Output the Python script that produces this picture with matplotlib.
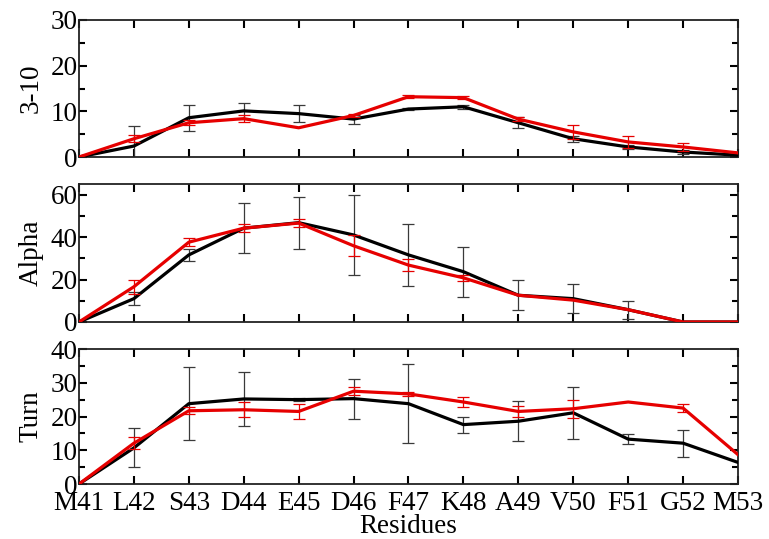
import numpy as np
import matplotlib
matplotlib.use("Agg")
import matplotlib.pyplot as plt
from matplotlib.ticker import MultipleLocator

plt.rcParams['font.family'] = ['Liberation Serif', 'DejaVu Serif']

residues = ["M41", "L42", "S43", "D44", "E45", "D46", "F47",
            "K48", "A49", "V50", "F51", "G52", "M53"]

# 3-10 helix
h310_black = [0, 2.4, 8.6, 10.1, 9.5, 8.3, 10.5, 11.0, 7.5, 4.0, 2.2, 1.1, 0.4]
h310_black_err = [0, 4.4, 2.8, 1.8, 1.8, 1.0, 0.3, 0.4, 1.2, 0.7, 0.5, 0.5, 0]
h310_red = [0, 4.0, 7.5, 8.4, 6.4, 9.1, 13.2, 13.0, 8.3, 5.5, 3.3, 2.2, 0.9]
h310_red_err = [0, 0.8, 0.6, 0.7, 0, 0.4, 0.3, 0.3, 0.5, 1.5, 1.3, 0.9, 0]

# alpha helix
alpha_black = [0, 11.0, 31.6, 44.2, 46.8, 41.0, 31.6, 23.7, 12.6, 11.0, 5.8, 0, 0]
alpha_black_err = [0, 3.2, 2.7, 11.8, 12.3, 18.7, 14.5, 11.8, 7.0, 6.7, 4.3, 0, 0]
alpha_red = [0, 16.6, 37.6, 44.2, 46.6, 35.9, 26.8, 20.8, 12.6, 10.3, 5.8, 0, 0]
alpha_red_err = [0, 3.2, 2.0, 2.0, 1.8, 5.0, 3.0, 1.5, 0, 0, 0, 0, 0]

# turn
turn_black = [0, 10.7, 23.8, 25.2, 25.0, 25.3, 23.8, 17.6, 18.6, 21.1, 13.3, 12.1, 6.4]
turn_black_err = [0, 5.8, 10.8, 8.1, 0.5, 5.9, 11.7, 2.4, 6.0, 7.7, 1.5, 4.0, 0]
turn_red = [0, 12.1, 21.7, 22.0, 21.5, 27.5, 26.7, 24.3, 21.5, 22.3, 24.3, 22.5, 8.7]
turn_red_err = [0, 1.8, 1.0, 2.2, 2.1, 1.2, 0.5, 1.6, 1.5, 2.6, 0, 1.1, 0]

panels = [
    ("3-10", h310_black, h310_black_err, h310_red, h310_red_err, 30, 10, 5),
    ("Alpha", alpha_black, alpha_black_err, alpha_red, alpha_red_err, 65, 20, 10),
    ("Turn", turn_black, turn_black_err, turn_red, turn_red_err, 40, 10, 5),
]

fig = plt.figure(figsize=(7.69, 5.39), dpi=100)
left, width = 0.1027, 0.857
boxes = [(0.7087, 0.2542), (0.4026, 0.2560), (0.1020, 0.2505)]

x = np.arange(len(residues))
fs = 19.5

for i, (name, yb, eb, yr, er, ymax, major, minor) in enumerate(panels):
    bottom, height = boxes[i]
    ax = fig.add_axes([left, bottom, width, height])
    yb, eb, yr, er = map(np.array, (yb, eb, yr, er))

    ax.plot(x, yb, color='black', lw=2.3, zorder=3)
    m = eb > 0
    ax.errorbar(x[m], yb[m], yerr=eb[m], fmt='none', ecolor='#3a3a3a',
                elinewidth=0.9, capsize=4.5, capthick=0.9, zorder=2)
    ax.plot(x, yr, color='#e60000', lw=2.3, zorder=4)
    m = er > 0
    ax.errorbar(x[m], yr[m], yerr=er[m], fmt='none', ecolor='#e60000',
                elinewidth=0.9, capsize=4.5, capthick=0.9, zorder=4)

    ax.set_xlim(0, len(residues) - 1)
    ax.set_ylim(0, ymax)
    ax.yaxis.set_major_locator(MultipleLocator(major))
    ax.yaxis.set_minor_locator(MultipleLocator(minor))
    ax.set_xticks(x)
    ax.tick_params(which='both', direction='in', top=True, right=True,
                   labelsize=fs, width=1.5)
    ax.tick_params(axis='y', pad=1)
    ax.tick_params(axis='x', pad=5)
    ax.tick_params(which='major', length=6)
    ax.tick_params(which='minor', length=4)
    for s in ax.spines.values():
        s.set_linewidth(1.3)
        s.set_color('#222222')
    ax.set_ylabel(name, fontsize=fs, labelpad=5)
    if i < 2:
        ax.set_xticklabels([])
    else:
        ax.set_xticklabels(residues)
        ax.set_xlabel("Residues", fontsize=fs, labelpad=-1.5)

fig.savefig("out.png", dpi=100)
